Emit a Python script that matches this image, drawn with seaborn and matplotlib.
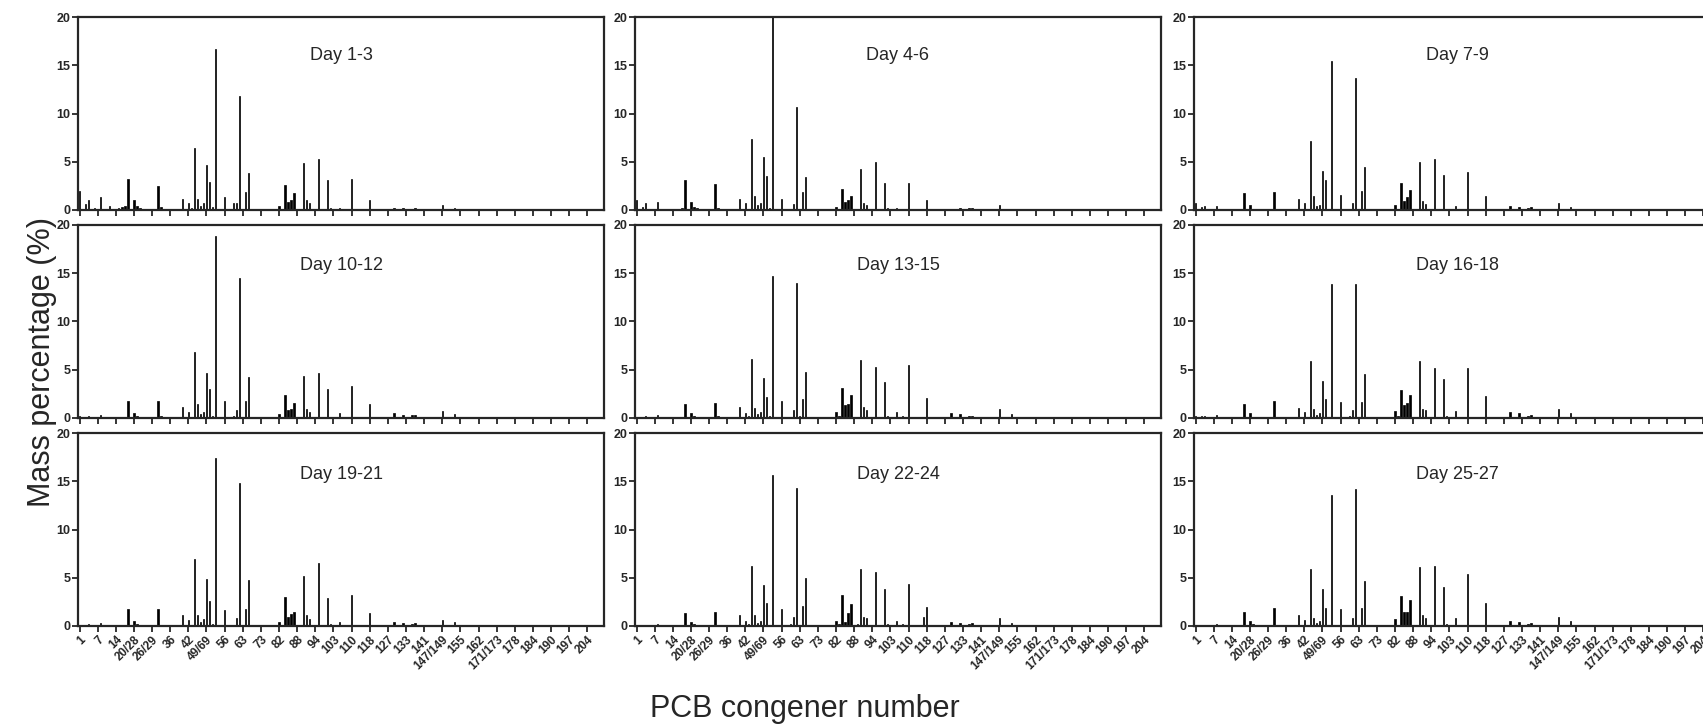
# PCB congener mass percentage profiles, 3-day intervals

import numpy as np
import pandas as pd
import matplotlib
matplotlib.use("Agg")
import matplotlib.pyplot as plt
import seaborn as sns

# 174 congener slots on the x axis, one label every 6th slot
n_slots = 174
tick_labels = ["1", "7", "14", "20/28", "26/29", "36", "42", "49/69", "56", "63",
               "73", "82", "88", "94", "103", "110", "118", "127", "133", "141",
               "147/149", "155", "162", "171/173", "178", "184", "190", "197", "204"]

# slots that carry a visible bar
slots = [0, 2, 3, 5, 7, 10, 13, 14, 15, 16, 18, 19, 20, 26, 27, 34, 36, 37, 38, 39,
         40, 41, 42, 43, 44, 45, 48, 51, 52, 53, 54, 55, 56, 66, 67, 68, 69, 70, 71, 73,
         74, 75, 76, 79, 82, 83, 86, 88, 90, 95, 96, 104, 107, 110, 111, 120, 124]

day_1_3 = [2.0, 0.6, 1.0, 0.2, 1.3, 0.4, 0.2, 0.3, 0.4, 3.2, 1.0, 0.4, 0.2, 2.5, 0.3,
           1.1, 0.7, 0.2, 6.4, 1.1, 0.4, 0.7, 4.7, 2.9, 0.3, 16.7, 1.3, 0.7, 0.7, 11.8,
           0.1, 1.9, 3.8, 0.4, 0.0, 2.6, 0.8, 1.0, 1.8, 0.0, 4.9, 1.0, 0.7, 5.3, 3.1,
           0.2, 0.2, 0.0, 3.2, 0.0, 1.0, 0.2, 0.2, 0.15, 0.2, 0.5, 0.2]
day_4_6 = [1.0, 0.3, 0.7, 0.1, 0.8, 0.1, 0.0, 0.1, 0.2, 3.1, 0.8, 0.3, 0.2, 2.7, 0.2,
           1.1, 0.7, 0.0, 7.4, 1.5, 0.5, 0.7, 5.5, 3.5, 0.2, 23.0, 1.1, 0.0, 0.6, 10.7,
           0.0, 1.9, 3.4, 0.3, 0.0, 2.2, 0.8, 1.0, 1.4, 0.0, 4.2, 0.7, 0.5, 5.0, 2.8,
           0.2, 0.2, 0.0, 2.8, 0.0, 1.0, 0.1, 0.2, 0.2, 0.2, 0.5, 0.1]
day_7_9 = [0.7, 0.3, 0.4, 0.0, 0.4, 0.0, 0.0, 0.1, 0.1, 1.8, 0.5, 0.1, 0.0, 1.9, 0.1,
           1.1, 0.7, 0.1, 7.1, 1.4, 0.4, 0.5, 4.0, 3.1, 0.1, 15.4, 1.6, 0.0, 0.7, 13.7,
           0.1, 2.0, 4.5, 0.5, 0.0, 2.8, 0.9, 1.3, 2.1, 0.0, 5.0, 0.9, 0.6, 5.3, 3.6,
           0.1, 0.4, 0.0, 3.9, 0.0, 1.4, 0.4, 0.3, 0.2, 0.3, 0.7, 0.3]
day_10_12 = [0.2, 0.1, 0.2, 0.0, 0.3, 0.0, 0.0, 0.1, 0.1, 1.8, 0.5, 0.2, 0.0, 1.8, 0.2,
             1.1, 0.6, 0.1, 6.8, 1.5, 0.4, 0.6, 4.7, 3.0, 0.2, 18.9, 1.8, 0.2, 0.8, 14.5,
             0.1, 1.8, 4.2, 0.4, 0.1, 2.4, 0.8, 0.9, 1.6, 0.0, 4.4, 0.9, 0.6, 4.7, 3.0,
             0.1, 0.5, 0.1, 3.3, 0.0, 1.5, 0.5, 0.3, 0.3, 0.3, 0.7, 0.4]
day_13_15 = [0.1, 0.1, 0.2, 0.0, 0.3, 0.0, 0.0, 0.1, 0.1, 1.4, 0.5, 0.2, 0.0, 1.6, 0.2,
             1.1, 0.5, 0.2, 6.1, 1.0, 0.4, 0.6, 4.1, 2.2, 0.2, 14.7, 1.8, 0.0, 0.8, 14.0,
             0.2, 2.0, 4.8, 0.6, 0.2, 3.1, 1.3, 1.5, 2.4, 0.0, 6.0, 1.1, 0.8, 5.3, 3.7,
             0.2, 0.6, 0.2, 5.5, 0.0, 2.1, 0.5, 0.4, 0.2, 0.2, 0.9, 0.4]
day_16_18 = [0.2, 0.2, 0.2, 0.0, 0.3, 0.0, 0.0, 0.1, 0.1, 1.5, 0.5, 0.1, 0.0, 1.8, 0.1,
             1.0, 0.6, 0.1, 5.9, 0.9, 0.3, 0.5, 3.8, 2.0, 0.1, 13.9, 1.7, 0.2, 0.8, 13.9,
             0.1, 1.7, 4.6, 0.7, 0.2, 2.9, 1.3, 1.6, 2.4, 0.1, 5.9, 0.9, 0.8, 5.2, 4.0,
             0.2, 0.7, 0.1, 5.2, 0.0, 2.3, 0.6, 0.5, 0.2, 0.3, 0.9, 0.5]
day_19_21 = [0.1, 0.1, 0.2, 0.0, 0.3, 0.0, 0.0, 0.1, 0.1, 1.8, 0.5, 0.2, 0.0, 1.8, 0.1,
             1.1, 0.6, 0.0, 6.9, 1.1, 0.4, 0.7, 4.9, 2.6, 0.2, 17.4, 1.7, 0.1, 0.8, 14.8,
             0.1, 1.8, 4.8, 0.4, 0.1, 3.0, 0.9, 1.2, 1.5, 0.0, 5.2, 1.1, 0.7, 6.5, 2.9,
             0.2, 0.4, 0.0, 3.2, 0.0, 1.3, 0.4, 0.3, 0.2, 0.3, 0.6, 0.4]
day_22_24 = [0.1, 0.0, 0.1, 0.0, 0.2, 0.0, 0.0, 0.0, 0.1, 1.3, 0.4, 0.2, 0.0, 1.5, 0.0,
             1.1, 0.5, 0.2, 6.2, 1.1, 0.3, 0.5, 4.3, 2.4, 0.1, 15.6, 1.8, 0.2, 0.9, 14.3,
             0.1, 2.1, 5.0, 0.5, 0.2, 3.2, 0.4, 1.3, 2.3, 0.2, 5.9, 0.9, 0.8, 5.6, 3.8,
             0.2, 0.5, 0.2, 4.4, 0.9, 2.0, 0.4, 0.3, 0.2, 0.3, 0.8, 0.3]
day_25_27 = [0.0, 0.0, 0.0, 0.0, 0.2, 0.0, 0.0, 0.0, 0.1, 1.4, 0.5, 0.2, 0.0, 1.9, 0.1,
             1.1, 0.6, 0.1, 5.9, 0.8, 0.3, 0.5, 3.8, 1.9, 0.1, 13.6, 1.8, 0.0, 0.8, 14.2,
             0.1, 1.9, 4.7, 0.7, 0.1, 3.1, 1.4, 1.5, 2.7, 0.1, 6.1, 1.1, 0.8, 6.2, 4.0,
             0.2, 0.8, 0.1, 5.4, 0.0, 2.4, 0.5, 0.4, 0.2, 0.3, 0.9, 0.5]

panel_names = ["Day 1-3", "Day 4-6", "Day 7-9", "Day 10-12", "Day 13-15",
               "Day 16-18", "Day 19-21", "Day 22-24", "Day 25-27"]
panel_values = [day_1_3, day_4_6, day_7_9, day_10_12, day_13_15,
                day_16_18, day_19_21, day_22_24, day_25_27]

sns.set_style("ticks")
plt.rcParams['font.family'] = ['Liberation Sans', 'DejaVu Sans']

W, H = 1703, 725
fig = plt.figure(figsize=(W / 100, H / 100), dpi=100)

col_left = [78, 635, 1194]
row_top = [17, 225, 433]
title_y = [0.80, 0.79, 0.785]
ax_w, ax_h = 526, 193

for k, (name, vals) in enumerate(zip(panel_names, panel_values)):
    r, c = divmod(k, 3)
    ax = fig.add_axes([col_left[c] / W, 1 - (row_top[r] + ax_h) / H, ax_w / W, ax_h / H])

    full = np.zeros(n_slots)
    full[slots] = vals
    df = pd.DataFrame({"slot": np.arange(n_slots), "value": full})
    sns.barplot(data=df, x="slot", y="value", color="black", width=0.45,
                native_scale=True, edgecolor="black", linewidth=0.5,
                saturation=1, ax=ax)

    ax.set_xlim(-0.5, n_slots - 0.5)
    ax.set_ylim(0, 20)
    ax.set_yticks([0, 5, 10, 15, 20])
    ax.set_xticks(np.arange(0, n_slots, 6))
    if r == 2:
        ax.set_xticklabels(tick_labels, rotation=45, ha="right",
                           rotation_mode="anchor", fontsize=8.5, fontweight="bold")
    else:
        ax.set_xticklabels([])
    for lab in ax.get_yticklabels():
        lab.set_fontweight("bold")
        lab.set_fontsize(9)
    ax.set_xlabel("")
    ax.set_ylabel("")
    ax.tick_params(axis="both", direction="out", length=4, width=1.3, pad=1.5)
    for sp in ax.spines.values():
        sp.set_visible(True)
        sp.set_linewidth(1.6)
    ax.text(0.5, title_y[r], name, transform=ax.transAxes, ha="center", va="center",
            fontsize=13)

fig.text(42 / W, 1 - 362 / H, "Mass percentage (%)", rotation=90,
         ha="center", va="center", fontsize=22)
fig.text(805 / W, 1 - 709 / H, "PCB congener number", ha="center", va="center", fontsize=22)

fig.savefig("out.png", dpi=100)
